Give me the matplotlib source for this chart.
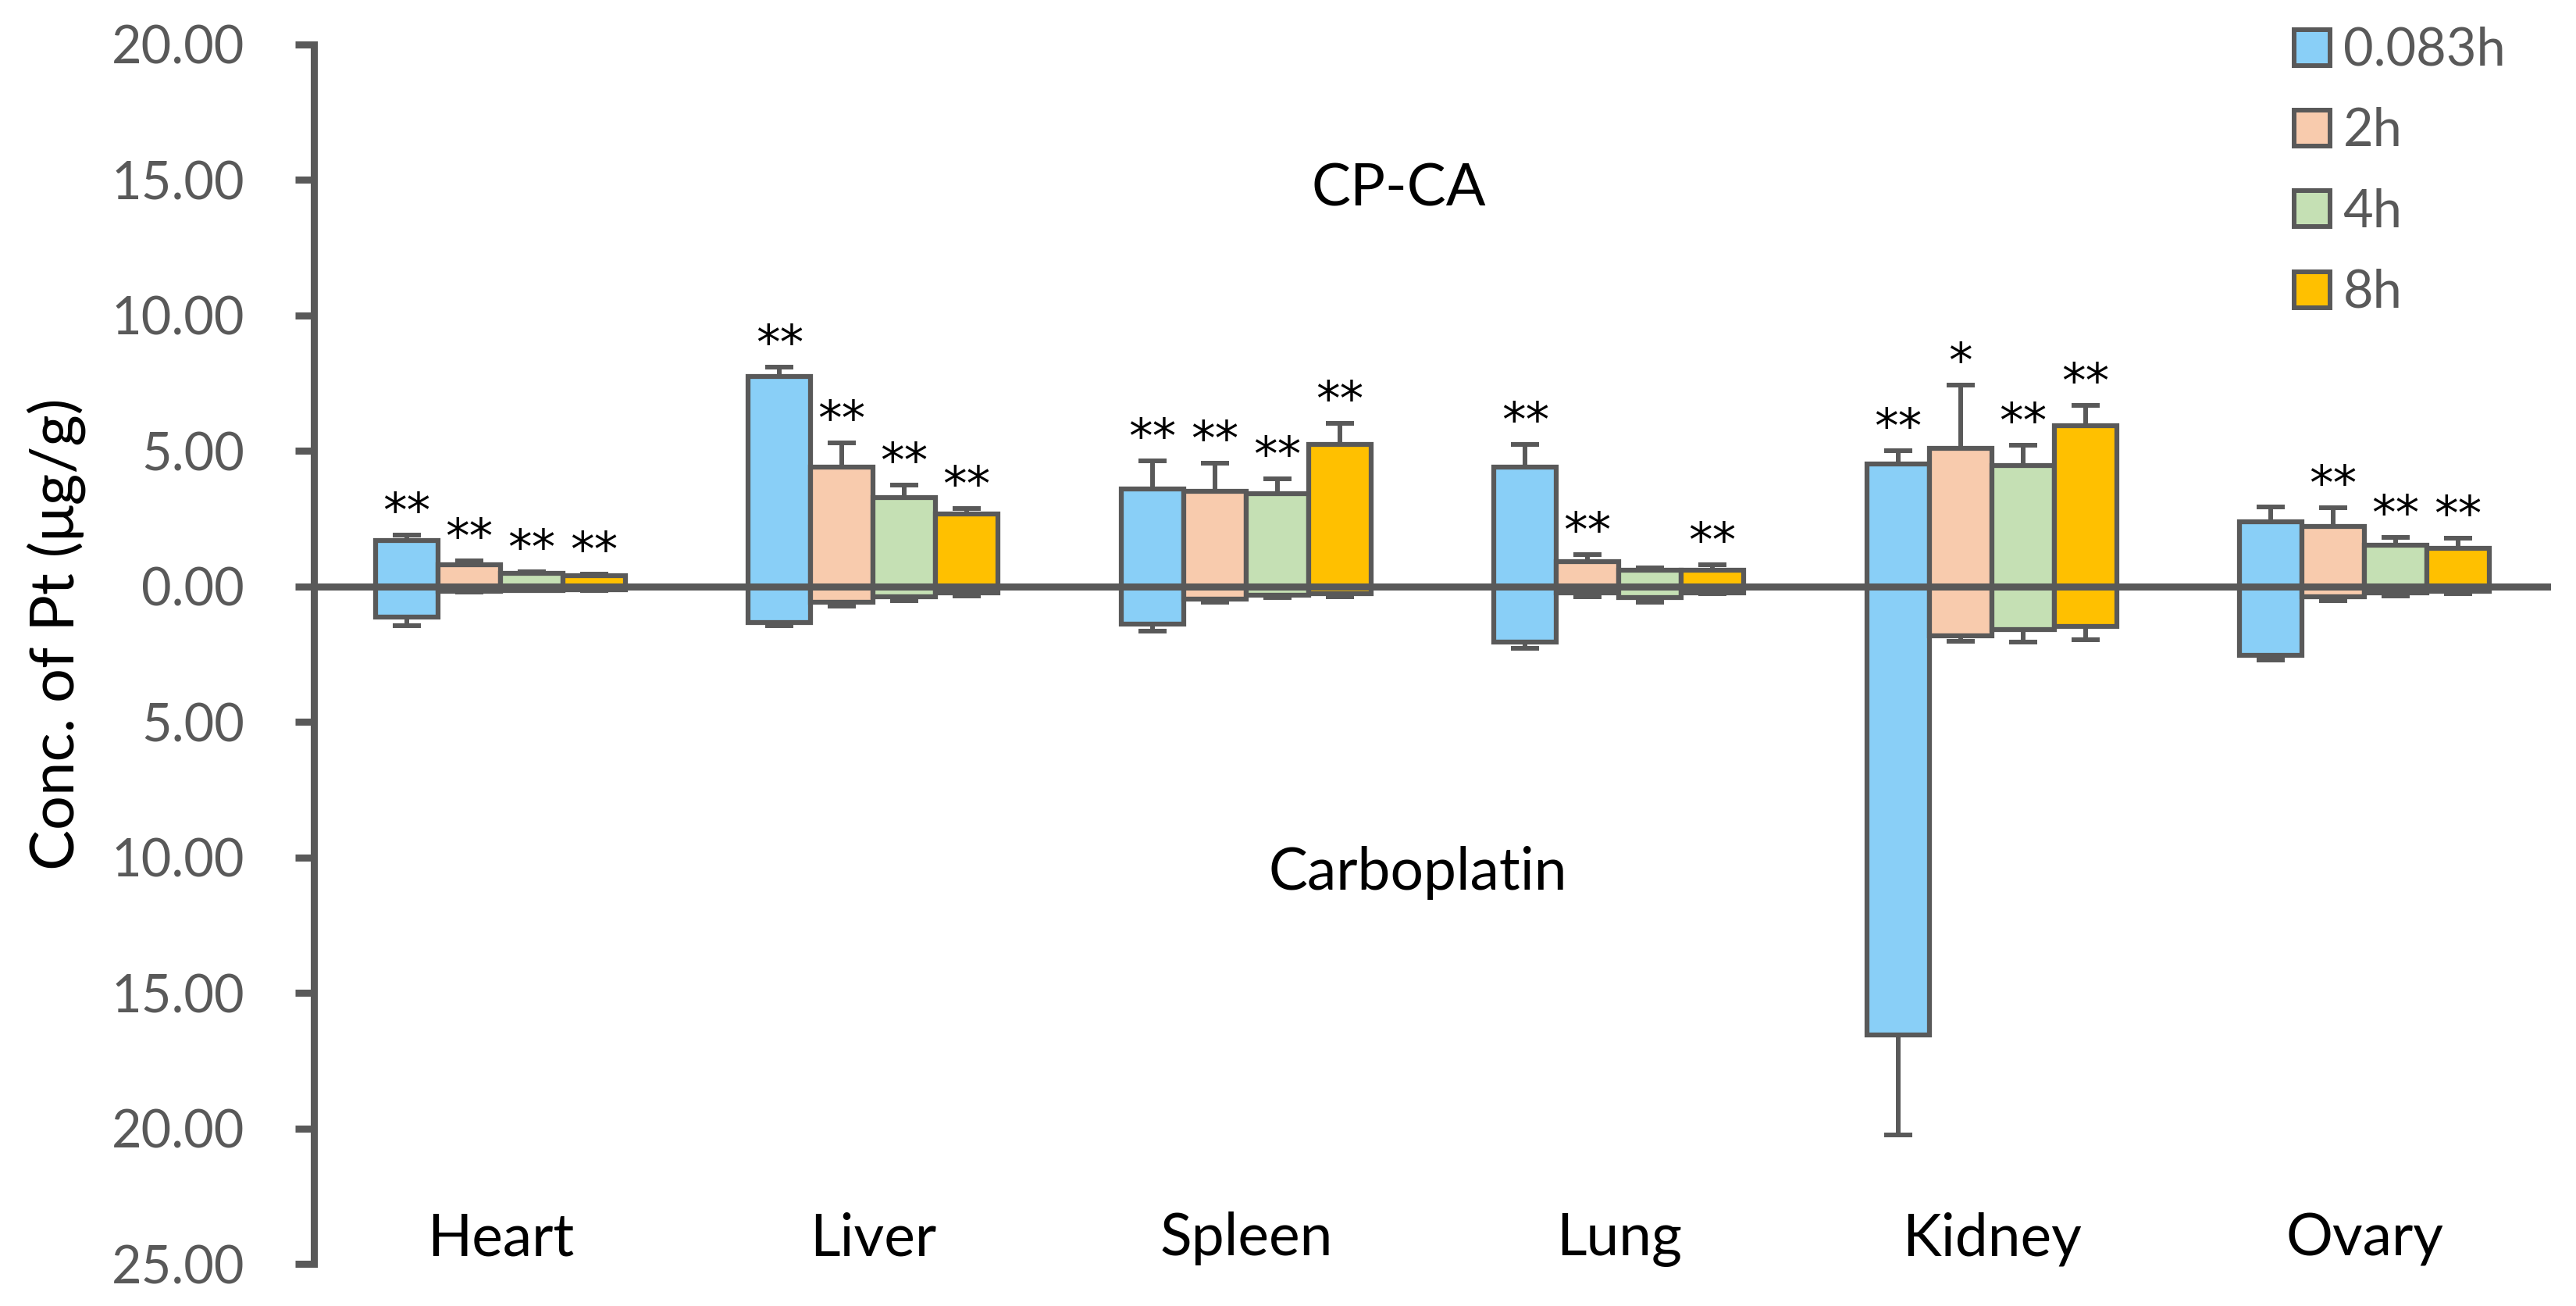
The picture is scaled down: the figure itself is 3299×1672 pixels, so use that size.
import matplotlib
matplotlib.use("Agg")
import matplotlib.pyplot as plt
from matplotlib.patches import Patch
import matplotlib.transforms as mtransforms
import numpy as np

plt.rcParams['font.family'] = ['Lato', 'DejaVu Sans']

organs = ["Heart", "Liver", "Spleen", "Lung", "Kidney", "Ovary"]
times = ["0.083h", "2h", "4h", "8h"]
colors = ["#89CFF7", "#F8CBAD", "#C5E0B4", "#FFC000"]

# CP-CA (plotted upward), per time point across organs
cpca_0083 = [1.70, 7.75, 3.60, 4.41, 4.53, 2.39]
cpca_2 = [0.81, 4.39, 3.52, 0.92, 5.11, 2.22]
cpca_4 = [0.49, 3.29, 3.43, 0.59, 4.45, 1.53]
cpca_8 = [0.40, 2.68, 5.24, 0.59, 5.94, 1.41]
cpca_err_0083 = [0.20, 0.35, 1.04, 0.84, 0.47, 0.54]
cpca_err_2 = [0.14, 0.91, 1.02, 0.26, 2.33, 0.69]
cpca_err_4 = [0.06, 0.44, 0.54, 0.10, 0.76, 0.29]
cpca_err_8 = [0.05, 0.20, 0.78, 0.22, 0.75, 0.36]

# Carboplatin (plotted downward)
carbo_0083 = [1.12, 1.32, 1.38, 2.05, 16.55, 2.55]
carbo_2 = [0.17, 0.59, 0.46, 0.23, 1.82, 0.37]
carbo_4 = [0.14, 0.37, 0.32, 0.40, 1.58, 0.23]
carbo_8 = [0.13, 0.24, 0.27, 0.23, 1.48, 0.18]
carbo_err_0083 = [0.32, 0.13, 0.26, 0.22, 3.70, 0.16]
carbo_err_2 = [0.03, 0.13, 0.12, 0.14, 0.21, 0.15]
carbo_err_4 = [0.01, 0.15, 0.08, 0.18, 0.48, 0.12]
carbo_err_8 = [0.01, 0.11, 0.11, 0.05, 0.48, 0.10]

# significance marks above CP-CA bars
sig_0083 = ["**", "**", "**", "**", "**", ""]
sig_2 = ["**", "**", "**", "**", "*", "**"]
sig_4 = ["**", "**", "**", "", "**", "**"]
sig_8 = ["**", "**", "**", "**", "**", "**"]

yticks = [-25, -20, -15, -10, -5, 0, 5, 10, 15, 20]

cpca = [cpca_0083, cpca_2, cpca_4, cpca_8]
cpca_err = [cpca_err_0083, cpca_err_2, cpca_err_4, cpca_err_8]
carbo = [carbo_0083, carbo_2, carbo_4, carbo_8]
carbo_err = [carbo_err_0083, carbo_err_2, carbo_err_4, carbo_err_8]
sigs = [sig_0083, sig_2, sig_4, sig_8]

GRAY = "#595959"
W, H = 3299, 1672
fig = plt.figure(figsize=(W / 100, H / 100), dpi=100)
ax = fig.add_axes([402 / W, 1 - 1618 / H, (3267 - 402) / W, (1618 - 57) / H])
ax.set_xlim(-0.5, 5.5)
ax.set_ylim(-25, 20)

x = np.arange(len(organs))
bw = 0.1675
edge_lw = 4.5
for k in range(4):
    xs = x + (k - 1.5) * bw
    up = np.array(cpca[k])
    dn = -np.array(carbo[k])
    ax.bar(xs, up, width=bw, color=colors[k], edgecolor=GRAY, linewidth=edge_lw, zorder=2)
    ax.bar(xs, dn, width=bw, color=colors[k], edgecolor=GRAY, linewidth=edge_lw, zorder=2)
    ax.errorbar(xs, up, yerr=[np.zeros(6), cpca_err[k]], fmt='none', ecolor=GRAY,
                elinewidth=4.3, capsize=13.3, capthick=4.3, zorder=1)
    ax.errorbar(xs, dn, yerr=[carbo_err[k], np.zeros(6)], fmt='none', ecolor=GRAY,
                elinewidth=4.3, capsize=13.3, capthick=4.3, zorder=1)
    for i in range(6):
        if sigs[k][i]:
            ax.annotate(sigs[k][i], (xs[i], up[i] + cpca_err[k][i]), xytext=(0, 8),
                        textcoords='offset points', ha='center', va='baseline',
                        fontsize=44, color='black', zorder=4,
                        family=['DejaVu Sans'])

ax.axhline(0, color=GRAY, lw=6.5, zorder=3)

for s in ['top', 'right', 'bottom']:
    ax.spines[s].set_visible(False)
ax.spines['left'].set_color(GRAY)
ax.spines['left'].set_linewidth(6.5)
ax.set_xticks([])
ax.set_yticks(yticks)
ax.set_yticklabels(["%.2f" % abs(v) for v in yticks])
ax.tick_params(axis='y', length=17, width=6.5, color=GRAY, pad=47,
               labelsize=48, labelcolor=GRAY)

trans = mtransforms.blended_transform_factory(ax.transData, ax.transAxes)
for i, name in enumerate(organs):
    ax.text(x[i], 0.007, name, transform=trans, ha='center', va='baseline',
            fontsize=54, color='black')

ax.text(0.485, 0.868, "CP-CA", transform=ax.transAxes, ha='center', va='baseline',
        fontsize=54, color='black')
ax.text(0.4935, 0.307, "Carboplatin", transform=ax.transAxes, ha='center', va='baseline',
        fontsize=54, color='black')

fig.text(72 / W, 1 - 812 / H, "Conc. of Pt (μg/g)", rotation=90, ha='center', va='center',
         fontsize=56, color='black')

handles = [Patch(facecolor=c, edgecolor=GRAY, linewidth=4.3) for c in colors]
leg = fig.legend(handles, times, loc='upper left', bbox_to_anchor=(2938 / W, 1 - 34 / H),
                 frameon=False, fontsize=48, labelcolor=GRAY, handlelength=0.69,
                 handleheight=0.69, handletextpad=0.25, labelspacing=0.62,
                 borderpad=0, borderaxespad=0)

fig.savefig("out.png", dpi=100)
